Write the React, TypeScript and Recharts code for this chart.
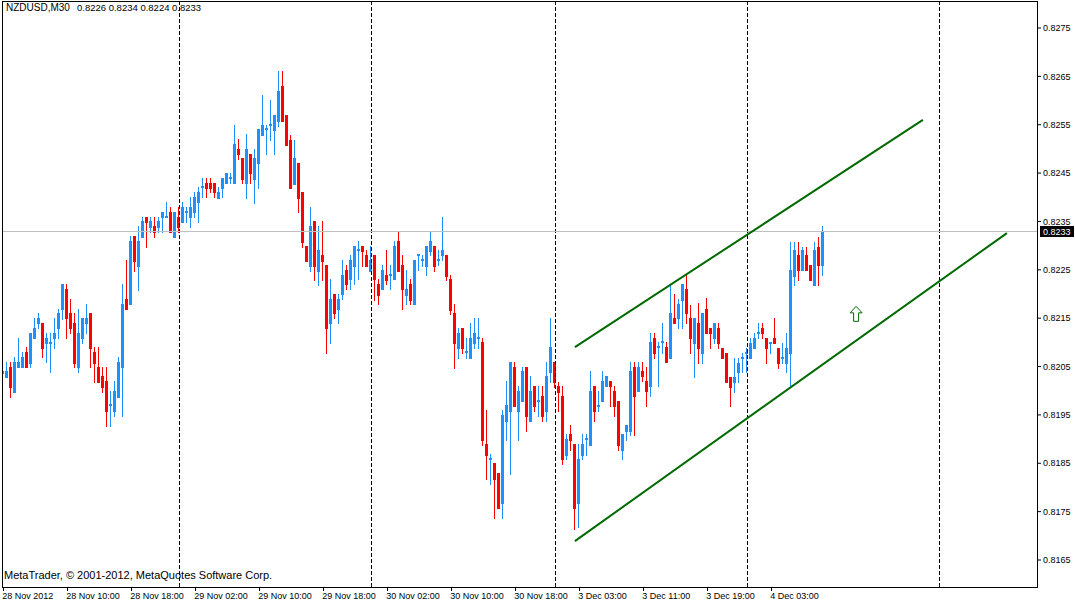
import React from 'react';
import { ComposedChart, Bar, XAxis, YAxis, ReferenceLine, ReferenceDot } from 'recharts';

// NZDUSD M30 candles, [open, high, low, close], one list per trading day
const nov28 = [
  [0.82037, 0.8205, 0.81987, 0.82041], [0.82028, 0.8206, 0.82028, 0.82041], [0.8205, 0.8206, 0.81987, 0.82008],
  [0.81997, 0.8207, 0.81997, 0.8206], [0.8205, 0.82109, 0.8205, 0.8206], [0.8205, 0.8208, 0.8205, 0.8207],
  [0.8208, 0.82091, 0.8205, 0.8205], [0.82058, 0.8212, 0.8205, 0.8212], [0.82109, 0.8215, 0.82109, 0.82129],
  [0.8214, 0.82161, 0.82129, 0.8215], [0.8214, 0.8214, 0.8207, 0.82088], [0.82099, 0.8212, 0.8206, 0.82109],
  [0.82099, 0.8212, 0.82039, 0.82101], [0.82109, 0.8215, 0.82088, 0.8212], [0.82129, 0.82169, 0.82109, 0.82161],
  [0.82169, 0.82221, 0.82148, 0.82221], [0.8221, 0.82221, 0.82109, 0.8215], [0.82161, 0.8219, 0.8212, 0.82129],
  [0.8214, 0.82161, 0.8205, 0.82058], [0.8205, 0.82169, 0.82039, 0.8212], [0.82109, 0.8215, 0.82099, 0.8215],
  [0.8214, 0.8218, 0.8212, 0.8215], [0.82161, 0.82161, 0.8205, 0.82088], [0.8208, 0.82091, 0.82018, 0.82058],
  [0.8205, 0.82091, 0.82018, 0.82018], [0.82031, 0.8205, 0.81997, 0.82008], [0.8202, 0.8205, 0.81927, 0.81958],
  [0.81971, 0.81999, 0.81927, 0.81973], [0.81958, 0.8202, 0.81948, 0.81999], [0.81987, 0.8207, 0.81987, 0.8206],
  [0.8205, 0.82221, 0.81948, 0.8218], [0.8219, 0.8227, 0.82169, 0.82169], [0.8218, 0.82319, 0.8218, 0.8231],
  [0.8232, 0.8232, 0.82248, 0.82268], [0.82258, 0.8234, 0.82208, 0.8231], [0.82318, 0.82359, 0.82318, 0.82351],
  [0.8236, 0.8236, 0.82297, 0.82349], [0.82339, 0.8236, 0.82328, 0.82351], [0.82341, 0.8236, 0.82318, 0.82328],
  [0.82339, 0.8236, 0.82328, 0.82351], [0.8236, 0.8237, 0.82328, 0.8237], [0.8236, 0.8239, 0.8236, 0.82362],
  [0.8237, 0.8238, 0.82328, 0.82328], [0.82318, 0.8237, 0.82318, 0.8237],
];

const nov29 = [
  [0.8236, 0.8238, 0.82328, 0.82339], [0.82349, 0.8239, 0.82349, 0.8238], [0.8237, 0.8238, 0.82349, 0.82372],
  [0.8236, 0.82401, 0.82339, 0.8238], [0.8237, 0.82411, 0.8236, 0.82401], [0.8239, 0.82421, 0.82349, 0.82411],
  [0.82421, 0.8244, 0.82401, 0.82423], [0.8243, 0.8244, 0.82401, 0.82419], [0.8243, 0.8244, 0.82411, 0.82419],
  [0.8243, 0.8243, 0.82401, 0.82411], [0.82399, 0.82421, 0.82399, 0.82411], [0.82419, 0.8244, 0.82401, 0.8244],
  [0.8243, 0.8245, 0.8243, 0.8245], [0.8244, 0.8245, 0.8243, 0.82442], [0.8243, 0.8255, 0.8243, 0.8251],
  [0.82499, 0.8252, 0.82479, 0.82489], [0.82481, 0.82481, 0.8243, 0.82438], [0.8243, 0.82531, 0.82399, 0.82499],
  [0.82489, 0.82489, 0.8243, 0.8245], [0.82438, 0.82499, 0.82388, 0.82481], [0.82471, 0.82541, 0.82419, 0.82541],
  [0.82529, 0.82611, 0.82529, 0.8255], [0.82541, 0.8255, 0.82489, 0.82543], [0.8255, 0.82601, 0.82518, 0.82552],
  [0.82539, 0.8257, 0.82489, 0.8257], [0.82558, 0.82661, 0.82547, 0.8262], [0.8263, 0.82661, 0.82558, 0.82558],
  [0.8257, 0.8257, 0.82508, 0.82508], [0.82518, 0.82529, 0.82419, 0.82419], [0.82427, 0.82518, 0.82427, 0.82481],
  [0.82471, 0.82471, 0.8237, 0.82399], [0.82411, 0.82411, 0.82298, 0.82308], [0.823, 0.823, 0.82268, 0.82268],
  [0.82258, 0.8238, 0.82248, 0.82341], [0.82351, 0.82351, 0.82229, 0.82258], [0.82248, 0.82341, 0.82219, 0.82291],
  [0.82281, 0.82351, 0.82229, 0.82268], [0.8226, 0.8226, 0.82078, 0.82129], [0.8214, 0.82231, 0.82099, 0.8219],
  [0.822, 0.822, 0.8215, 0.82161], [0.82169, 0.822, 0.8214, 0.8219], [0.822, 0.8227, 0.8219, 0.8224],
  [0.8225, 0.8226, 0.8221, 0.82221], [0.82231, 0.82281, 0.8221, 0.8227], [0.82258, 0.823, 0.82221, 0.823],
  [0.82291, 0.8231, 0.82231, 0.82293], [0.823, 0.823, 0.82258, 0.82289], [0.82281, 0.82291, 0.82258, 0.82258],
];

const nov30 = [
  [0.82248, 0.823, 0.82248, 0.8227], [0.82281, 0.82281, 0.82188, 0.82231], [0.82221, 0.82231, 0.8218, 0.82198],
  [0.8221, 0.8226, 0.8221, 0.8225], [0.8224, 0.82291, 0.82221, 0.82229], [0.8224, 0.8226, 0.8221, 0.82242],
  [0.82231, 0.8231, 0.82231, 0.823], [0.8231, 0.8233, 0.82248, 0.82248], [0.8226, 0.82281, 0.82169, 0.8221],
  [0.82198, 0.8225, 0.8218, 0.8221], [0.82221, 0.82231, 0.8218, 0.82188], [0.8218, 0.8227, 0.8218, 0.8227],
  [0.82281, 0.82283, 0.8225, 0.82283], [0.8227, 0.82281, 0.82258, 0.82272], [0.82258, 0.823, 0.8224, 0.823],
  [0.82289, 0.8233, 0.82281, 0.8231], [0.823, 0.823, 0.82248, 0.82258], [0.8227, 0.82291, 0.8226, 0.82272],
  [0.82281, 0.8236, 0.8227, 0.82291], [0.82281, 0.82281, 0.82229, 0.82237], [0.82231, 0.8224, 0.82159, 0.82167],
  [0.82161, 0.8218, 0.82048, 0.82099], [0.82088, 0.82129, 0.82068, 0.8212], [0.82129, 0.82129, 0.82078, 0.82088],
  [0.8208, 0.82109, 0.82068, 0.82082], [0.82068, 0.8214, 0.82068, 0.82109], [0.82099, 0.8215, 0.82088, 0.8212],
  [0.82109, 0.8215, 0.82088, 0.82111], [0.82101, 0.82109, 0.81888, 0.81898], [0.8189, 0.8196, 0.81817, 0.81867],
  [0.81859, 0.81869, 0.81807, 0.81861], [0.8185, 0.8185, 0.81737, 0.81817], [0.8183, 0.8183, 0.81757, 0.81757],
  [0.81768, 0.8196, 0.81737, 0.8195], [0.81937, 0.8202, 0.81898, 0.81971], [0.81958, 0.8206, 0.81828, 0.8206],
  [0.8205, 0.8206, 0.81969, 0.81969], [0.81958, 0.8201, 0.81898, 0.81999], [0.81979, 0.8205, 0.81979, 0.82041],
  [0.8205, 0.8205, 0.81917, 0.81948], [0.81937, 0.82031, 0.81937, 0.81999], [0.8201, 0.8201, 0.81958, 0.81969],
  [0.81979, 0.8201, 0.81948, 0.81981], [0.81989, 0.8201, 0.81937, 0.81948], [0.81958, 0.8206, 0.81937, 0.82031],
  [0.82039, 0.8215, 0.82018, 0.82091],
];

const dec3 = [
  [0.8206, 0.8206, 0.82008, 0.82018], [0.8201, 0.82018, 0.81958, 0.81997], [0.81989, 0.8201, 0.81848, 0.81859],
  [0.81867, 0.81911, 0.81859, 0.819], [0.81911, 0.81929, 0.81877, 0.81898], [0.8189, 0.8189, 0.81714, 0.81757],
  [0.81768, 0.8189, 0.81718, 0.81859], [0.81867, 0.81911, 0.81859, 0.8189], [0.819, 0.81911, 0.81867, 0.81902],
  [0.81888, 0.82041, 0.81888, 0.81999], [0.8201, 0.8201, 0.81937, 0.81958], [0.81969, 0.81999, 0.81958, 0.81971],
  [0.81979, 0.82041, 0.81979, 0.8202], [0.8201, 0.82031, 0.8201, 0.82031], [0.8202, 0.8202, 0.81969, 0.8201],
  [0.81999, 0.8201, 0.81948, 0.81969], [0.81979, 0.81979, 0.81877, 0.81888], [0.81877, 0.81911, 0.81859, 0.81911],
  [0.81917, 0.81929, 0.81898, 0.81929], [0.81917, 0.8206, 0.81909, 0.82041], [0.8205, 0.8206, 0.81909, 0.81989],
  [0.81999, 0.8206, 0.81999, 0.8205], [0.82041, 0.8206, 0.8202, 0.82031], [0.8202, 0.8205, 0.81969, 0.81999],
  [0.8201, 0.8212, 0.81989, 0.82101], [0.82109, 0.8212, 0.82068, 0.82078], [0.82091, 0.82101, 0.8201, 0.82093],
  [0.82101, 0.8214, 0.82078, 0.82103], [0.82091, 0.82101, 0.8206, 0.8206], [0.82068, 0.82221, 0.82068, 0.82161],
  [0.8215, 0.822, 0.8214, 0.8214], [0.8215, 0.8219, 0.82129, 0.8218], [0.82188, 0.82221, 0.82129, 0.82221],
  [0.8221, 0.8224, 0.8214, 0.82161], [0.8215, 0.82178, 0.82078, 0.82109], [0.82099, 0.8215, 0.82028, 0.8215],
  [0.8214, 0.82182, 0.82058, 0.82088], [0.82078, 0.82161, 0.82058, 0.82161], [0.82169, 0.82192, 0.8212, 0.8212],
  [0.82129, 0.82129, 0.82088, 0.8212], [0.82109, 0.8214, 0.82099, 0.8214], [0.82129, 0.8214, 0.82088, 0.82099],
  [0.82088, 0.82088, 0.82068, 0.82068], [0.82078, 0.82078, 0.82018, 0.82018], [0.82028, 0.82028, 0.81969, 0.82008],
  [0.82018, 0.82068, 0.81997, 0.82028], [0.82039, 0.82068, 0.82018, 0.82058], [0.82068, 0.82078, 0.82039, 0.8207],
];

const dec4 = [
  [0.82078, 0.82088, 0.82039, 0.8208], [0.82068, 0.82109, 0.82068, 0.82099], [0.82088, 0.8212, 0.82088, 0.82109],
  [0.8212, 0.8214, 0.82109, 0.82122], [0.82129, 0.8214, 0.82109, 0.8212], [0.82109, 0.82109, 0.82058, 0.82088],
  [0.82099, 0.82101, 0.82078, 0.82101], [0.82109, 0.8215, 0.82099, 0.82099], [0.82088, 0.82088, 0.82048, 0.82058],
  [0.82068, 0.82099, 0.82058, 0.8207], [0.82058, 0.8212, 0.82039, 0.82088], [0.82078, 0.82308, 0.82008, 0.8225],
  [0.82237, 0.82308, 0.82219, 0.82291], [0.82281, 0.82308, 0.82229, 0.8225], [0.8225, 0.82298, 0.8225, 0.82291],
  [0.82281, 0.82298, 0.8225, 0.8225], [0.8226, 0.8226, 0.82229, 0.82229], [0.82219, 0.82308, 0.82219, 0.82291],
  [0.82298, 0.82318, 0.82219, 0.8226], [0.8226, 0.8234, 0.8224, 0.8233],
];

const timeTicks = [0, 16, 32, 48, 64, 80, 96, 112, 128, 144, 160, 176, 192];
const timeLabels = [
  '28 Nov 2012', '28 Nov 10:00', '28 Nov 18:00', '29 Nov 02:00', '29 Nov 10:00', '29 Nov 18:00', '30 Nov 02:00',
  '30 Nov 10:00', '30 Nov 18:00', '3 Dec 03:00', '3 Dec 11:00', '3 Dec 19:00', '4 Dec 03:00',
];
const daySeparators = [44, 92, 138, 186, 234];
const priceTicks = [0.8165, 0.8175, 0.8185, 0.8195, 0.8205, 0.8215, 0.8225, 0.8235, 0.8245, 0.8255, 0.8265, 0.8275];
const bidPrice = 0.8233;
const upperLine = [{ x: 142.9, y: 0.8209 }, { x: 229.9, y: 0.8256 }];
const lowerLine = [{ x: 142.9, y: 0.81689 }, { x: 250.9, y: 0.82326 }];
const arrowAt = { x: 213.2, y: 0.82159 };

const bars = [...nov28, ...nov29, ...nov30, ...dec3, ...dec4].map(([o, h, l, c], i) => ({ i, o, h, l, c }));
const last = bars[bars.length - 1];

const BULL = '#1E90FF';
const BEAR = '#FF0000';
const TREND = '#006A00';

function Candle(props: any) {
  const { x, y, width, height, payload } = props;
  if (!payload || x == null || y == null) return null;
  const { o, h, l, c } = payload;
  const top = Math.min(y, y + height);
  const bot = Math.max(y, y + height);
  const span = h - l || 1e-9;
  const py = (v: number) => top + ((h - v) / span) * (bot - top);
  const col = Math.round(x + width / 2 - 0.5);
  const color = c >= o ? BULL : BEAR;
  const wTop = Math.round(top);
  const wBot = Math.round(bot);
  const bTop = Math.round(py(Math.max(o, c)));
  const bBot = Math.round(py(Math.min(o, c)));
  return (
    <g shapeRendering="crispEdges">
      <rect x={col} y={wTop} width={1} height={Math.max(1, wBot - wTop + 1)} fill={color} />
      <rect x={col - 1} y={bTop} width={3} height={Math.max(1, bBot - bTop + 1)} fill={color} />
    </g>
  );
}

function TimeTick({ x, y, payload }: any) {
  const k = timeTicks.indexOf(payload.value);
  const px = Math.round(x) + 0.5;
  return (
    <g>
      <line x1={px} y1={y} x2={px} y2={y + 4} stroke="#000" />
      <text x={x - 1} y={y + 12} fontSize={9} fill="#000" textAnchor="start">
        {timeLabels[k]}
      </text>
    </g>
  );
}

function BidLabel({ viewBox }: any) {
  if (!viewBox) return null;
  const bx = viewBox.x + viewBox.width + 3;
  const by = Math.round(viewBox.y);
  return (
    <g>
      <rect x={bx} y={by - 5} width={34} height={11} fill="#000" />
      <text x={bx + 3} y={by + 4} fontSize={9} fill="#fff">
        {bidPrice.toFixed(4)}
      </text>
    </g>
  );
}

function UpArrow({ cx, cy }: any) {
  const pts = [
    [0, -7.5], [6, -1], [2.5, -1], [2.5, 7.5], [-2.5, 7.5], [-2.5, -1], [-6, -1],
  ].map(([dx, dy]) => `${cx + dx},${cy + dy}`).join(' ');
  return <polygon points={pts} fill="#fff" stroke={TREND} strokeWidth={1} />;
}

export default function App() {
  return (
    <div
      style={{
        position: 'absolute',
        left: 0,
        top: 0,
        width: 1075,
        height: 602,
        background: '#fff',
        fontFamily: '"Liberation Sans", Arial, sans-serif',
        overflow: 'hidden',
      }}
    >
      <ComposedChart width={1075} height={602} data={bars} margin={{ top: 1, right: 0, bottom: 0, left: 2 }}>
        <XAxis
          type="number"
          dataKey="i"
          domain={[-0.325, 258.425]}
          allowDataOverflow
          ticks={timeTicks}
          interval={0}
          tickSize={0}
          tickMargin={0}
          axisLine={false}
          tickLine={false}
          height={15}
          tick={<TimeTick />}
        />
        <YAxis
          orientation="right"
          type="number"
          domain={[0.8159418, 0.8280583]}
          allowDataOverflow
          ticks={priceTicks}
          interval={0}
          width={38}
          tickSize={4}
          tickMargin={2}
          axisLine={false}
          tickLine={{ stroke: '#000' }}
          tick={{ fontSize: 9, fill: '#000' }}
          tickFormatter={(v: number) => v.toFixed(4)}
        />
        {daySeparators.map((d) => (
          <ReferenceLine key={d} x={d} stroke="#000" strokeDasharray="4 2" shapeRendering="crispEdges" />
        ))}
        <ReferenceLine y={bidPrice} stroke="#C0C0C0" shapeRendering="crispEdges" label={<BidLabel />} />
        <Bar
          dataKey={(d: any) => [d.l, d.h]}
          barSize={3}
          shape={<Candle />}
          isAnimationActive={false}
        />
        <ReferenceLine segment={upperLine} stroke={TREND} strokeWidth={2} />
        <ReferenceLine segment={lowerLine} stroke={TREND} strokeWidth={2} />
        <ReferenceDot x={arrowAt.x} y={arrowAt.y} r={0} shape={<UpArrow />} />
      </ComposedChart>
      <div
        style={{
          position: 'absolute',
          left: 2,
          top: 1,
          width: 1036,
          height: 587,
          border: '1px solid #000',
          boxSizing: 'border-box',
          pointerEvents: 'none',
        }}
      />
      <div style={{ position: 'absolute', left: 6, top: 2, fontSize: 10, color: '#000', whiteSpace: 'pre' }}>
        NZDUSD,M30
      </div>
      <div style={{ position: 'absolute', left: 77, top: 2, fontSize: 9.5, color: '#000', whiteSpace: 'pre' }}>
        {`${last.o.toFixed(4)} ${last.h.toFixed(4)} ${last.l.toFixed(4)} ${last.c.toFixed(4)}`}
      </div>
      <div style={{ position: 'absolute', left: 4, top: 569, fontSize: 11, color: '#000', whiteSpace: 'pre' }}>
        MetaTrader, © 2001-2012, MetaQuotes Software Corp.
      </div>
    </div>
  );
}
